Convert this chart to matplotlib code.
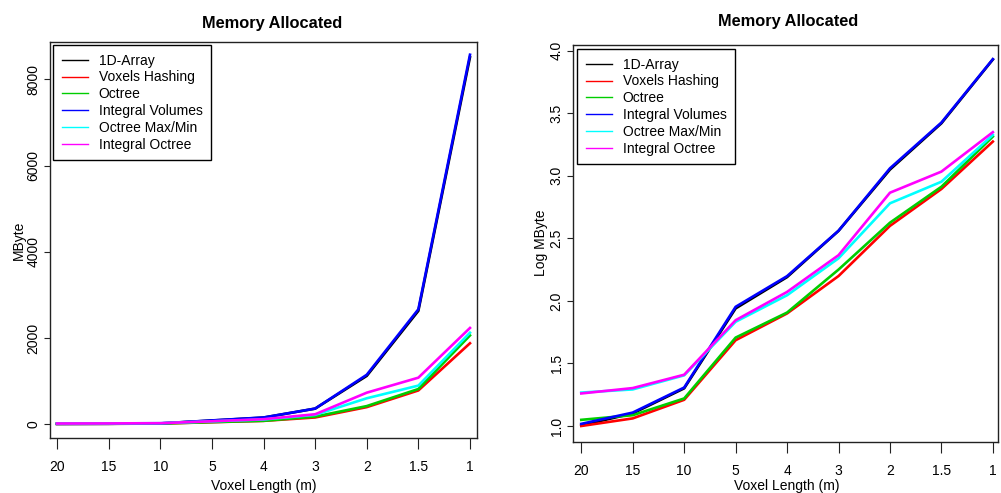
import numpy as np
import matplotlib
matplotlib.use("Agg")
import matplotlib.pyplot as plt
from matplotlib.lines import Line2D

plt.rcParams['font.family'] = ['Liberation Sans', 'DejaVu Sans']

# Datos: memoria reservada (MByte) por longitud de voxel
voxel_labels = ["20", "15", "10", "5", "4", "3", "2", "1.5", "1"]
series_names = ["1D-Array", "Voxels Hashing", "Octree", "Integral Volumes",
                "Octree Max/Min", "Integral Octree"]
mb_1d_array = [10.1, 12.6, 20.0, 87.1, 155, 363, 1122, 2630, 8511]
mb_voxel_hashing = [10.0, 11.5, 16.2, 48.5, 79.4, 158, 398, 785, 1879]
mb_octree = [11.2, 12.2, 16.6, 50.9, 80.7, 178, 422, 818, 2061]
mb_integral_volumes = [10.4, 12.8, 20.3, 89.7, 157.8, 364, 1148, 2667, 8570]
mb_octree_maxmin = [18.5, 19.6, 25.4, 68.1, 111, 219, 603, 897, 2123]
mb_integral_octree = [18.2, 20.1, 25.7, 70.1, 118, 232, 733, 1081, 2234]

series = [mb_1d_array, mb_voxel_hashing, mb_octree, mb_integral_volumes,
          mb_octree_maxmin, mb_integral_octree]
colors = ["#000000", "#FF0000", "#00CD00", "#0000FF", "#00FFFF", "#FF00FF"]

W, H = 1001, 493
fig = plt.figure(figsize=(W / 100, H / 100), dpi=100)


def box(l, t, r, b):
    return [l / W, 1 - b / H, (r - l) / W, (b - t) / H]


ax1 = fig.add_axes(box(50, 42, 477, 438))
ax2 = fig.add_axes(box(573, 45, 998, 442))

x = np.arange(len(voxel_labels))

for s, c in zip(series, colors):
    ax1.plot(x, s, color=c, lw=1.9)
    ax2.plot(x, np.log10(s), color=c, lw=1.9)

ax1.set_xlim(-0.136, 8.136)
ax1.set_ylim(-318, 8865)
ax1.set_yticks([0, 2000, 4000, 6000, 8000])
ax2.set_xlim(-0.161, 8.1)
ax2.set_ylim(0.872, 4.046)
ax2.set_yticks([1.0, 1.5, 2.0, 2.5, 3.0, 3.5, 4.0])
ax2.set_yticklabels(["1.0", "1.5", "2.0", "2.5", "3.0", "3.5", "4.0"])

handles = [Line2D([], [], color=c, lw=1) for c in colors]

for ax, leg_xy in [(ax1, (53, 45)), (ax2, (577, 49))]:
    ax.set_xticks(x)
    ax.set_xticklabels(voxel_labels)
    ax.tick_params(axis='x', direction='out', length=8, width=0.8,
                   pad=7.5, labelsize=10, colors='#222222', labelcolor='black')
    ax.tick_params(axis='y', direction='out', length=4.3, width=0.8,
                   pad=2.5, labelsize=10, labelrotation=90,
                   colors='#222222', labelcolor='black')
    for lab in ax.get_yticklabels():
        lab.set_verticalalignment('center')
    for sp in ax.spines.values():
        sp.set_color('#222222')
        sp.set_linewidth(1.0)
    leg = ax.legend(handles, series_names, loc='upper left',
                    bbox_to_anchor=(leg_xy[0] / W, 1 - leg_xy[1] / H),
                    bbox_transform=fig.transFigure, borderaxespad=0,
                    fontsize=10, handlelength=1.87, handletextpad=0.79,
                    labelspacing=0.2, borderpad=0.62, fancybox=False,
                    framealpha=1, edgecolor='black')
    leg.get_frame().set_linewidth(1.0)

# Titulos y etiquetas
fig.text(272 / W, 1 - 28 / H, "Memory Allocated", ha='center', va='baseline',
         fontsize=11.8, fontweight='bold')
fig.text(788 / W, 1 - 26 / H, "Memory Allocated", ha='center', va='baseline',
         fontsize=11.8, fontweight='bold')
fig.text(264 / W, 1 - 490 / H, "Voxel Length (m)", ha='center', va='baseline',
         fontsize=10)
fig.text(787 / W, 1 - 490 / H, "Voxel Length (m)", ha='center', va='baseline',
         fontsize=10)
fig.text(18.5 / W, 1 - 240 / H, "MByte", ha='center', va='center',
         rotation=90, fontsize=10)
fig.text(541 / W, 1 - 243 / H, "Log MByte", ha='center', va='center',
         rotation=90, fontsize=10)

fig.savefig("out.png", dpi=100)
